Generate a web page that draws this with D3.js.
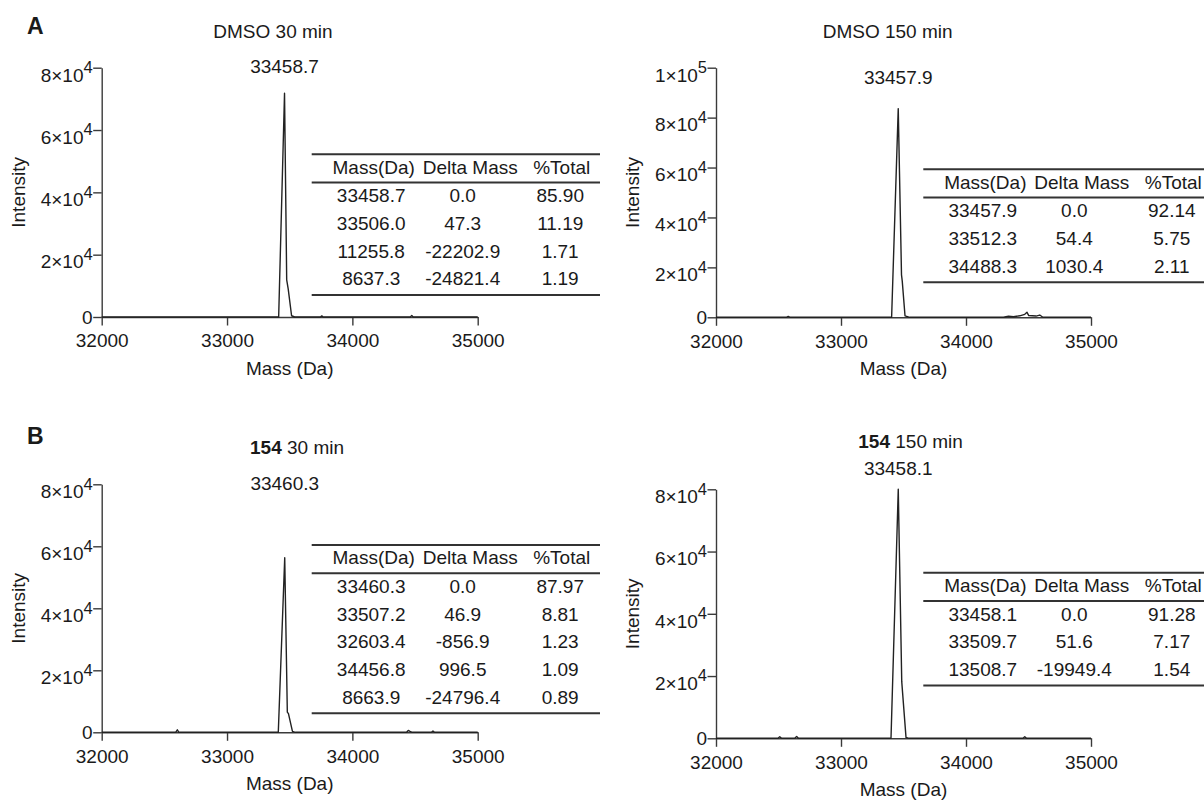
<!DOCTYPE html>
<html>
<head>
<meta charset="utf-8">
<script src="https://cdn.jsdelivr.net/npm/d3@7"></script>
<style>
  html, body { margin: 0; padding: 0; background: #ffffff; }
  svg { display: block; }
  text { font-family: "Liberation Sans", Arial, Helvetica, sans-serif; fill: #1a1a1a; }
</style>
</head>
<body>
<svg id="fig" width="1204" height="800"></svg>
<script>
// ---- Deconvoluted spectra: mass (Da) and intensity ----
const massDmso30 = [32000, 33412, 33458.7, 33476, 33488, 33515, 33540, 33745, 33756, 33767, 34462, 34474, 34486, 35000];
const intDmso30  = [0, 0, 71800, 11900, 9000, 400, 0, 0, 350, 0, 0, 450, 0, 0];

const massDmso150 = [32000, 32562, 32578, 32594, 33405, 33457.9, 33484, 33490, 33512, 33550,
                     34300, 34340, 34380, 34430, 34470, 34488, 34502, 34560, 34590, 34615, 35000];
const intDmso150  = [0, 0, 350, 0, 0, 83600, 17000, 14500, 600, 0,
                     0, 400, 200, 600, 1200, 2000, 700, 500, 900, 0, 0];

const mass154_30 = [32000, 32590, 32603.4, 32616, 33409, 33460.3, 33481, 33490, 33522, 33545,
                    34432, 34446, 34460, 34478, 34630, 34643, 34656, 35000];
const int154_30  = [0, 0, 800, 0, 0, 56300, 6500, 6000, 300, 0,
                    0, 600, 300, 0, 0, 400, 0, 0];

const mass154_150 = [32000, 32495, 32510, 32525, 32630, 32645, 32660, 33400, 33458.1, 33486, 33492, 33520, 33545,
                     34455, 34470, 34485, 35000];
const int154_150  = [0, 0, 500, 0, 0, 600, 0, 0, 80000, 18200, 15000, 300, 0,
                     0, 500, 0, 0];

// ---- Axis ticks ----
const xTicks = [32000, 33000, 34000, 35000];
const yTicks8 = [0, 20000, 40000, 60000, 80000];
const yTickLabels8 = ["0", "2×10^4", "4×10^4", "6×10^4", "8×10^4"];
const yTicks10 = [0, 20000, 40000, 60000, 80000, 100000];
const yTickLabels10 = ["0", "2×10^4", "4×10^4", "6×10^4", "8×10^4", "1×10^5"];

// ---- Peak summary tables ----
const tableHeader = ["Mass(Da)", "Delta Mass", "%Total"];
const tableDmso30 = [
  ["33458.7", "0.0", "85.90"],
  ["33506.0", "47.3", "11.19"],
  ["11255.8", "-22202.9", "1.71"],
  ["8637.3", "-24821.4", "1.19"]
];
const tableDmso150 = [
  ["33457.9", "0.0", "92.14"],
  ["33512.3", "54.4", "5.75"],
  ["34488.3", "1030.4", "2.11"]
];
const table154_30 = [
  ["33460.3", "0.0", "87.97"],
  ["33507.2", "46.9", "8.81"],
  ["32603.4", "-856.9", "1.23"],
  ["34456.8", "996.5", "1.09"],
  ["8663.9", "-24796.4", "0.89"]
];
const table154_150 = [
  ["33458.1", "0.0", "91.28"],
  ["33509.7", "51.6", "7.17"],
  ["13508.7", "-19949.4", "1.54"]
];

// ---- Main peak mass labelled above each trace ----
const peakMasses = [33458.7, 33457.9, 33460.3, 33458.1];

// ---- Panel layout ----
const panels = [
  { mass: massDmso30, inten: intDmso30, yMax: 80000, yTicks: yTicks8, yLabels: yTickLabels8,
    left: 101.7, right: 477.7, top: 67.7, bottom: 317,
    title: [["", "DMSO 30 min"]], titleX: 213.3, titleY: 31.7, peak: peakMasses[0], peakY: 66.7,
    table: tableDmso30, tableLeft: 311.7, tableTop: 154.3, letter: "A", letterY: 33.5 },
  { mass: massDmso150, inten: intDmso150, yMax: 100000, yTicks: yTicks10, yLabels: yTickLabels10,
    left: 716, right: 1091, top: 67.7, bottom: 317.3,
    title: [["", "DMSO 150 min"]], titleX: 822.7, titleY: 31.7, peak: peakMasses[1], peakY: 77.3,
    table: tableDmso150, tableLeft: 923.3, tableTop: 169.3 },
  { mass: mass154_30, inten: int154_30, yMax: 80000, yTicks: yTicks8, yLabels: yTickLabels8,
    left: 101.7, right: 477.7, top: 484.3, bottom: 732.3,
    title: [["bold", "154"], ["", " 30 min"]], titleX: 250, titleY: 447.3, peak: peakMasses[2], peakY: 483.3,
    table: table154_30, tableLeft: 311.7, tableTop: 545, letter: "B", letterY: 443.5 },
  { mass: mass154_150, inten: int154_150, yMax: 80000, yTicks: yTicks8, yLabels: yTickLabels8,
    left: 716, right: 1091, top: 489.3, bottom: 738.3,
    title: [["bold", "154"], ["", " 150 min"]], titleX: 858.3, titleY: 441.7, peak: peakMasses[3], peakY: 468.3,
    table: table154_150, tableLeft: 923.3, tableTop: 572.7 }
];

const FS = 19;            // base font size
const AXIS_COLOR = "#3a3a3a";
const LINE_COLOR = "#222222";
const svg = d3.select("#fig");

panels.forEach(p => {
  const g = svg.append("g");
  const x = d3.scaleLinear().domain([32000, 35000]).range([p.left, p.right]);
  const y = d3.scaleLinear().domain([0, p.yMax]).range([p.bottom, p.top]);

  // x axis
  const xAxis = g.append("g")
    .attr("transform", `translate(0,${p.bottom})`)
    .call(d3.axisBottom(x).tickValues(xTicks).tickSize(8.5).tickSizeOuter(0)
      .tickPadding(8.5).tickFormat(d3.format("d")));
  xAxis.selectAll("text").style("font-size", FS + "px").attr("fill", "#1a1a1a");

  // y axis (labels drawn separately to allow exponents)
  const yAxis = g.append("g")
    .attr("transform", `translate(${p.left},0)`)
    .call(d3.axisLeft(y).tickValues(p.yTicks).tickSize(8.5).tickSizeOuter(0).tickFormat(""));

  [xAxis, yAxis].forEach(a => {
    a.select(".domain").attr("stroke", AXIS_COLOR).attr("stroke-width", 1.4);
    a.selectAll(".tick line").attr("stroke", AXIS_COLOR).attr("stroke-width", 1.4);
  });

  p.yTicks.forEach((v, i) => {
    const lbl = p.yLabels[i];
    const t = g.append("text")
      .attr("x", p.left - 9)
      .attr("text-anchor", "end")
      .style("font-size", FS + "px");
    if (lbl.includes("^")) {
      const [base, exp] = lbl.split("^");
      t.attr("y", y(v) + 13.8);
      t.append("tspan").text(base);
      t.append("tspan").attr("dy", -8.5).style("font-size", "16.5px").text(exp);
    } else {
      t.attr("y", y(v)).attr("dy", "0.35em").text(lbl);
    }
  });

  // axis titles
  g.append("text")
    .attr("x", (p.left + p.right) / 2)
    .attr("y", p.bottom + 51.3)
    .attr("dy", "0.35em")
    .attr("text-anchor", "middle")
    .style("font-size", FS + "px")
    .text("Mass (Da)");
  g.append("text")
    .attr("transform", `translate(${p.left - 83.4},${(p.top + p.bottom) / 2}) rotate(-90)`)
    .attr("dy", "0.35em")
    .attr("text-anchor", "middle")
    .style("font-size", FS + "px")
    .text("Intensity");

  // spectrum trace
  const pts = p.mass.map((m, i) => [m, p.inten[i]]);
  g.append("path")
    .datum(pts)
    .attr("fill", "none")
    .attr("stroke", LINE_COLOR)
    .attr("stroke-width", 1.4)
    .attr("stroke-linejoin", "round")
    .attr("d", d3.line().x(d => x(d[0])).y(d => y(d[1])));

  // panel title
  const tt = g.append("text")
    .attr("x", p.titleX)
    .attr("y", p.titleY)
    .attr("dy", "0.35em")
    .style("font-size", FS + "px");
  p.title.forEach(([w, s]) => {
    tt.append("tspan").attr("font-weight", w || null).text(s);
  });

  // main peak label
  g.append("text")
    .attr("x", x(p.peak))
    .attr("y", p.peakY)
    .attr("dy", "0.35em")
    .attr("text-anchor", "middle")
    .style("font-size", FS + "px")
    .text(d3.format(".1f")(p.peak));

  // summary table
  const tw = 288.3;
  const tL = p.tableLeft, tT = p.tableTop;
  const headerX = [62, 158.5, 250];
  const valueX = [59.5, 151, 248.5];
  const rowH = 27.7;
  const rule = (yy) => g.append("line")
    .attr("x1", tL).attr("x2", tL + tw).attr("y1", yy).attr("y2", yy)
    .attr("stroke", "#333333").attr("stroke-width", 2);
  rule(tT);
  rule(tT + 28.3);
  const lastRow = tT + 41.2 + rowH * (p.table.length - 1);
  rule(lastRow + 16.3);
  tableHeader.forEach((h, j) => {
    g.append("text")
      .attr("x", tL + headerX[j]).attr("y", tT + 12.7).attr("dy", "0.35em")
      .attr("text-anchor", "middle").style("font-size", FS + "px").text(h);
  });
  p.table.forEach((row, i) => {
    row.forEach((c, j) => {
      g.append("text")
        .attr("x", tL + valueX[j]).attr("y", tT + 41.2 + rowH * i).attr("dy", "0.35em")
        .attr("text-anchor", "middle").style("font-size", FS + "px").text(c);
    });
  });

  // figure part letter
  if (p.letter) {
    g.append("text")
      .attr("x", 27).attr("y", p.letterY)
      .attr("font-weight", "bold")
      .style("font-size", "23px")
      .text(p.letter);
  }
});
</script>
</body>
</html>
